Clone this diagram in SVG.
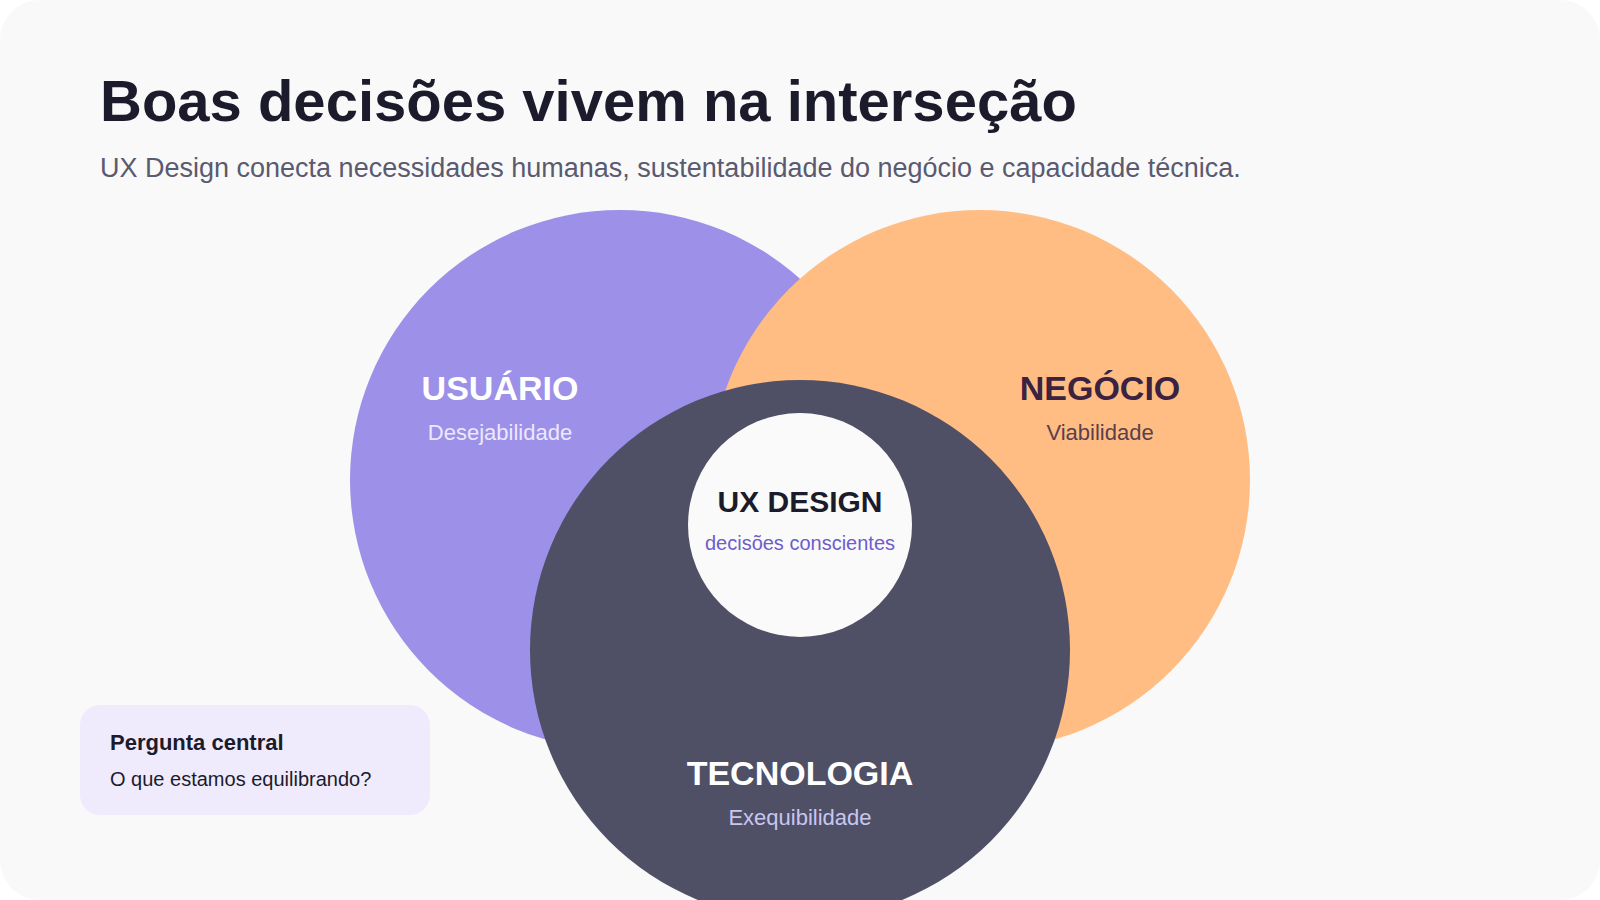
<svg xmlns="http://www.w3.org/2000/svg" width="1600" height="900" viewBox="0 0 1600 900">
  <style>
    text { font-family: "Liberation Sans", Arial, sans-serif; }
    .b { font-weight: 700; }
    .c { text-anchor: middle; }
  </style>
  <rect x="0" y="0" width="1600" height="900" fill="#ffffff"/>
  <rect id="card" x="0" y="0" width="1600" height="900" rx="40" ry="40" fill="#f9f9f9"/>
  <g id="header">
    <text x="100" y="121" font-size="58" class="b" fill="#1c1b2b">Boas decisões vivem na interseção</text>
    <text x="100" y="177" font-size="27" fill="#5a5a70">UX Design conecta necessidades humanas, sustentabilidade do negócio e capacidade técnica.</text>
  </g>
  <g id="usuario">
    <circle cx="620" cy="480" r="270" fill="#9d90e8"/>
  </g>
  <g id="negocio">
    <circle cx="980" cy="480" r="270" fill="#ffbd84"/>
  </g>
  <g id="tecnologia">
    <circle cx="800" cy="650" r="270" fill="#4f4f66"/>
  </g>
  <g id="usuario-label">
    <text x="500" y="400" font-size="34" class="b c" fill="#ffffff">USUÁRIO</text>
    <text x="500" y="440" font-size="22" class="c" fill="#ece8ff">Desejabilidade</text>
  </g>
  <g id="negocio-label">
    <text x="1100" y="400" font-size="34" class="b c" fill="#3a2240">NEGÓCIO</text>
    <text x="1100" y="440" font-size="22" class="c" fill="#5a3f4c">Viabilidade</text>
  </g>
  <g id="tecnologia-label">
    <text x="800" y="785" font-size="34" class="b c" fill="#ffffff">TECNOLOGIA</text>
    <text x="800" y="825" font-size="22" class="c" fill="#c9c6f0">Exequibilidade</text>
  </g>
  <g id="ux-design">
    <circle cx="800" cy="525" r="112" fill="#fafafa"/>
    <text x="800" y="512" font-size="30" class="b c" fill="#1c1b2b">UX DESIGN</text>
    <text x="800" y="550" font-size="20" class="c" fill="#6e5ccc">decisões conscientes</text>
  </g>
  <g id="pergunta">
    <rect x="80" y="705" width="350" height="110" rx="20" ry="20" fill="#efebfd"/>
    <text x="110" y="750" font-size="22" class="b" fill="#1c1b2b">Pergunta central</text>
    <text x="110" y="786" font-size="20" fill="#1c1b2b">O que estamos equilibrando?</text>
  </g>
  <g id="connectors"/>
</svg>
